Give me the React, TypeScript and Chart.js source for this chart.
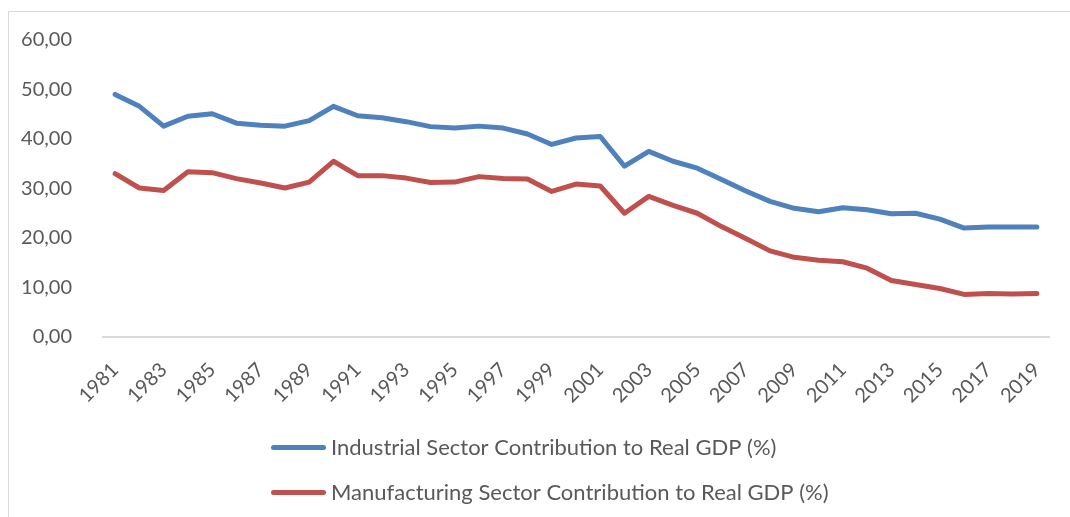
import { useEffect, useRef } from "react";
import { Chart, registerables } from "chart.js";

Chart.register(...registerables);

const years = [
  "1981", "1982", "1983", "1984", "1985", "1986", "1987", "1988", "1989", "1990",
  "1991", "1992", "1993", "1994", "1995", "1996", "1997", "1998", "1999", "2000",
  "2001", "2002", "2003", "2004", "2005", "2006", "2007", "2008", "2009", "2010",
  "2011", "2012", "2013", "2014", "2015", "2016", "2017", "2018", "2019",
];

const industrial = [
  49.0, 46.6, 42.6, 44.6, 45.1, 43.2, 42.8, 42.6, 43.7, 46.6,
  44.7, 44.3, 43.5, 42.5, 42.2, 42.6, 42.2, 41.0, 38.9, 40.2,
  40.5, 34.5, 37.5, 35.5, 34.1, 31.8, 29.5, 27.4, 26.0, 25.3,
  26.1, 25.7, 24.9, 25.0, 23.8, 22.0, 22.2, 22.2, 22.2,
];

const manufacturing = [
  33.0, 30.1, 29.6, 33.4, 33.2, 32.0, 31.1, 30.1, 31.3, 35.5,
  32.6, 32.6, 32.1, 31.2, 31.3, 32.4, 32.0, 31.9, 29.4, 30.9,
  30.5, 25.0, 28.4, 26.6, 25.0, 22.3, 19.9, 17.4, 16.1, 15.5,
  15.2, 13.9, 11.4, 10.6, 9.8, 8.6, 8.8, 8.7, 8.8,
];

const seriesNames = [
  "Industrial Sector Contribution to Real GDP (%)",
  "Manufacturing Sector Contribution to Real GDP (%)",
];
const seriesColors = ["#4f81bd", "#c0504d"];

const yMin = 0;
const yMax = 60;
const yStep = 10;

const FONT = "Lato, 'Open Sans', sans-serif";
const TEXT = "#595959";
const FRAME = "#d9d9d9";

export default function App() {
  const ref = useRef<HTMLCanvasElement>(null);

  useEffect(() => {
    const canvas = ref.current;
    if (!canvas) return;

    const framePlugin = {
      id: "frame",
      beforeDraw(chart: any) {
        const ctx = chart.ctx;
        ctx.save();
        ctx.fillStyle = "#ffffff";
        ctx.fillRect(0, 0, chart.width, chart.height);
        ctx.strokeStyle = FRAME;
        ctx.lineWidth = 1;
        ctx.beginPath();
        ctx.moveTo(8.5, chart.height);
        ctx.lineTo(8.5, 11.5);
        ctx.lineTo(chart.width, 11.5);
        ctx.stroke();
        ctx.restore();
      },
    };

    const legendPlugin = {
      id: "customLegend",
      afterDraw(chart: any) {
        const ctx = chart.ctx;
        ctx.save();
        const rows = [447.5, 492.5];
        chart.data.datasets.forEach((ds: any, i: number) => {
          const y = rows[i];
          ctx.strokeStyle = ds.borderColor;
          ctx.lineWidth = 5;
          ctx.lineCap = "round";
          ctx.beginPath();
          ctx.moveTo(273.5, y);
          ctx.lineTo(323.5, y);
          ctx.stroke();
          ctx.fillStyle = TEXT;
          ctx.font = `22px ${FONT}`;
          ctx.textBaseline = "middle";
          ctx.textAlign = "left";
          ctx.fillText(ds.label, 331, y);
        });
        ctx.restore();
      },
    };

    const chart = new Chart(canvas, {
      type: "line",
      data: {
        labels: years,
        datasets: [
          {
            label: seriesNames[0],
            data: industrial,
            borderColor: seriesColors[0],
            backgroundColor: seriesColors[0],
            borderWidth: 5,
            pointRadius: 0,
            tension: 0,
            borderJoinStyle: "round",
            borderCapStyle: "round",
          },
          {
            label: seriesNames[1],
            data: manufacturing,
            borderColor: seriesColors[1],
            backgroundColor: seriesColors[1],
            borderWidth: 5,
            pointRadius: 0,
            tension: 0,
            borderJoinStyle: "round",
            borderCapStyle: "round",
          },
        ],
      },
      options: {
        responsive: false,
        animation: false,
        devicePixelRatio: 1,
        layout: { padding: { left: 0, right: 21, top: 40, bottom: 100 } },
        plugins: {
          legend: { display: false },
          tooltip: { enabled: false },
        },
        scales: {
          x: {
            type: "category",
            offset: true,
            grid: { display: false },
            border: { display: true, color: FRAME, width: 2 },
            ticks: {
              autoSkip: false,
              maxRotation: 45,
              minRotation: 45,
              padding: 13,
              color: TEXT,
              font: { family: FONT, size: 20 },
              callback: (_v: any, idx: number) => (idx % 2 === 0 ? years[idx] : ""),
            },
            afterFit(scale: any) {
              scale.height = 80;
            },
          },
          y: {
            min: yMin,
            max: yMax,
            grid: { display: false },
            border: { display: false },
            ticks: {
              stepSize: yStep,
              padding: 23,
              color: TEXT,
              font: { family: FONT, size: 20 },
              callback: (v: any) => Number(v).toFixed(2).replace(".", ","),
            },
            afterFit(scale: any) {
              scale.width = 103;
            },
          },
        },
      },
      plugins: [framePlugin, legendPlugin],
    });

    return () => chart.destroy();
  }, []);

  return (
    <div style={{ position: "fixed", left: 0, top: 0, width: 1070, height: 517, background: "#fff" }}>
      <canvas ref={ref} width={1070} height={517} style={{ display: "block", width: 1070, height: 517 }} />
    </div>
  );
}
